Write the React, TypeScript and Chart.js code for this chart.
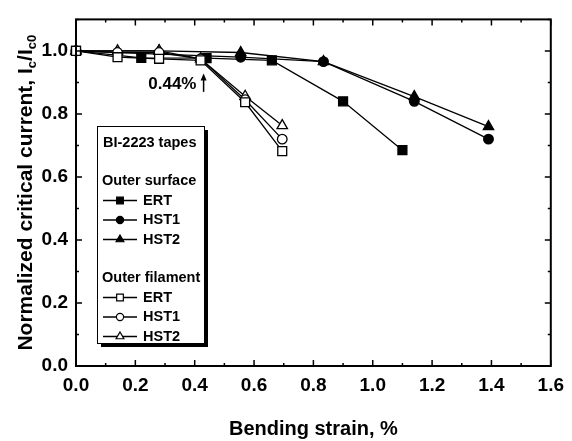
import React, { useEffect, useRef } from "react";
import { Chart, registerables } from "chart.js";
Chart.register(...registerables);

// ---- data ----
const xTickValues = [0, 0.2, 0.4, 0.6, 0.8, 1.0, 1.2, 1.4, 1.6];
const yTickValues = [0, 0.2, 0.4, 0.6, 0.8, 1.0];

const surfaceErtX = [0, 0.22, 0.44, 0.66, 0.9, 1.1];
const surfaceErtY = [1.0, 0.978, 0.977, 0.97, 0.84, 0.685];
const surfaceHstX = [0, 0.28, 0.555, 0.834, 1.14, 1.39];
const surfaceHst1Y = [1.0, 0.99, 0.98, 0.966, 0.84, 0.72];
const surfaceHst2Y = [1.0, 1.0, 0.995, 0.966, 0.855, 0.76];

const filamentErtX = [0, 0.14, 0.28, 0.42, 0.57, 0.695];
const filamentErtY = [1.0, 0.98, 0.975, 0.97, 0.837, 0.682];
const filamentHstX = [0, 0.14, 0.28, 0.42, 0.57, 0.695];
const filamentHst1Y = [1.0, 0.995, 0.995, 0.975, 0.845, 0.72];
const filamentHst2Y = [1.0, 1.0, 1.0, 0.975, 0.856, 0.763];

const legendTitle = "BI-2223 tapes";
const legendGroupSurface = "Outer surface";
const legendGroupFilament = "Outer filament";
const seriesNames = ["ERT", "HST1", "HST2"];
const seriesStyles = ["rect", "circle", "triangle"];

const annotationText = "0.44%";
const annotationX = 0.43;
const xTitle = "Bending strain, %";

const FONT = "'Liberation Sans', Arial, sans-serif";

function pts(xs: number[], ys: number[]) {
  return xs.map((x, i) => ({ x, y: ys[i] }));
}

function radiusFor(style: string) {
  if (style === "rect") return 6.3;
  if (style === "triangle") return 6;
  return 4.8;
}

function ds(label: string, data: any[], style: string, filled: boolean) {
  return {
    label,
    data,
    showLine: true,
    borderColor: "#000",
    borderWidth: 1.3,
    pointStyle: style,
    pointRadius: radiusFor(style),
    pointBackgroundColor: filled ? "#000" : "#fff",
    pointBorderColor: "#000",
    pointBorderWidth: 1.3,
    tension: 0,
    fill: false,
    clip: false as any,
  };
}

function drawMarker(ctx: CanvasRenderingContext2D, style: string, x: number, y: number, r: number, filled: boolean) {
  ctx.beginPath();
  if (style === "rect") {
    const s = r * Math.SQRT1_2;
    ctx.rect(x - s, y - s, 2 * s, 2 * s);
  } else if (style === "circle") {
    ctx.arc(x, y, r, 0, Math.PI * 2);
  } else {
    ctx.moveTo(x, y - r);
    ctx.lineTo(x + r * 0.866, y + r / 2);
    ctx.lineTo(x - r * 0.866, y + r / 2);
    ctx.closePath();
  }
  ctx.fillStyle = filled ? "#000" : "#fff";
  ctx.fill();
  ctx.lineWidth = 1.2;
  ctx.strokeStyle = "#000";
  ctx.stroke();
}

const decorPlugin = {
  id: "decor",
  afterDraw(chart: any) {
    const ctx: CanvasRenderingContext2D = chart.ctx;
    const { left, right, top, bottom } = chart.chartArea;
    const xs = chart.scales.x;
    const ys = chart.scales.y;
    ctx.save();
    // frame
    ctx.strokeStyle = "#000";
    ctx.lineWidth = 2;
    ctx.strokeRect(left, top, right - left, bottom - top);
    // ticks inward on all sides
    ctx.lineWidth = 1.5;
    ctx.beginPath();
    for (let i = 0; i <= 16; i++) {
      const v = i * 0.1;
      const px = xs.getPixelForValue(v);
      const len = i % 2 === 0 ? 6 : 3;
      ctx.moveTo(px, bottom);
      ctx.lineTo(px, bottom - len);
      ctx.moveTo(px, top);
      ctx.lineTo(px, top + len);
    }
    for (let i = 0; i <= 11; i++) {
      const v = i * 0.1;
      const py = ys.getPixelForValue(v);
      const len = i % 2 === 0 ? 6 : 3;
      ctx.moveTo(left, py);
      ctx.lineTo(left + len, py);
      ctx.moveTo(right, py);
      ctx.lineTo(right - len, py);
    }
    ctx.stroke();

    // annotation
    const ax = xs.getPixelForValue(annotationX);
    const y1 = ys.getPixelForValue(0.87);
    const y2 = ys.getPixelForValue(0.928);
    ctx.lineWidth = 1.5;
    ctx.beginPath();
    ctx.moveTo(ax, y1);
    ctx.lineTo(ax, y2 + 5);
    ctx.stroke();
    ctx.beginPath();
    ctx.moveTo(ax, y2);
    ctx.lineTo(ax + 3, y2 + 7);
    ctx.lineTo(ax - 3, y2 + 7);
    ctx.closePath();
    ctx.fillStyle = "#000";
    ctx.fill();
    ctx.font = `bold 17px ${FONT}`;
    ctx.textAlign = "right";
    ctx.textBaseline = "middle";
    ctx.fillText(annotationText, xs.getPixelForValue(0.406), ys.getPixelForValue(0.893));

    // legend box
    const bx = 97, by = 126, bw = 107, bh = 217;
    ctx.fillStyle = "#000";
    ctx.fillRect(bx + 4, by + 4, bw, bh);
    ctx.fillStyle = "#fff";
    ctx.fillRect(bx, by, bw, bh);
    ctx.lineWidth = 1;
    ctx.strokeRect(bx + 0.5, by + 0.5, bw, bh);
    ctx.fillStyle = "#000";
    ctx.textAlign = "left";
    ctx.textBaseline = "middle";
    ctx.font = `bold 14.5px ${FONT}`;
    ctx.fillText(legendTitle, 103, 143);
    ctx.font = `bold 14.5px ${FONT}`;
    const rowH = 19.5;
    const groups = [
      { title: legendGroupSurface, y: 181, filled: true },
      { title: legendGroupFilament, y: 278, filled: false },
    ];
    groups.forEach((g) => {
      ctx.fillStyle = "#000";
      ctx.fillText(g.title, 102, g.y);
      seriesNames.forEach((name, i) => {
        const yy = g.y + rowH * (i + 1);
        ctx.strokeStyle = "#000";
        ctx.lineWidth = 1.3;
        ctx.beginPath();
        ctx.moveTo(103, yy);
        ctx.lineTo(137, yy);
        ctx.stroke();
        drawMarker(ctx, seriesStyles[i], 120, yy, radiusFor(seriesStyles[i]) * 0.75, g.filled);
        ctx.fillStyle = "#000";
        ctx.fillText(name, 143, yy);
      });
    });

    // y title with subscripts
    const cy = (top + bottom) / 2;
    ctx.translate(25, cy);
    ctx.rotate(-Math.PI / 2);
    const big = `bold 21px ${FONT}`;
    const small = `bold 13px ${FONT}`;
    const parts: [string, boolean][] = [
      ["Normalized critical current, I", false],
      ["c", true],
      ["/I", false],
      ["c0", true],
    ];
    let total = 0;
    parts.forEach(([t, s]) => {
      ctx.font = s ? small : big;
      total += ctx.measureText(t).width;
    });
    let cx = -total / 2;
    ctx.textAlign = "left";
    ctx.textBaseline = "alphabetic";
    ctx.fillStyle = "#000";
    parts.forEach(([t, s]) => {
      ctx.font = s ? small : big;
      ctx.fillText(t, cx, s ? 11 : 7);
      cx += ctx.measureText(t).width;
    });
    ctx.restore();
  },
};

export default function App() {
  const ref = useRef<HTMLCanvasElement | null>(null);
  useEffect(() => {
    if (!ref.current) return;
    const chart = new Chart(ref.current, {
      type: "scatter",
      data: {
        datasets: [
          ds("Outer filament ERT", pts(filamentErtX, filamentErtY), "rect", false),
          ds("Outer filament HST1", pts(filamentHstX, filamentHst1Y), "circle", false),
          ds("Outer filament HST2", pts(filamentHstX, filamentHst2Y), "triangle", false),
          ds("Outer surface ERT", pts(surfaceErtX, surfaceErtY), "rect", true),
          ds("Outer surface HST1", pts(surfaceHstX, surfaceHst1Y), "circle", true),
          ds("Outer surface HST2", pts(surfaceHstX, surfaceHst2Y), "triangle", true),
        ] as any,
      },
      options: {
        animation: false,
        responsive: false,
        devicePixelRatio: 1,
        layout: { padding: { top: 13, right: 15, left: 0, bottom: 0 } },
        plugins: { legend: { display: false }, tooltip: { enabled: false } },
        scales: {
          x: {
            type: "linear",
            min: 0,
            max: 1.6,
            grid: { display: false, drawTicks: false },
            border: { display: false },
            afterBuildTicks: (s: any) => {
              s.ticks = xTickValues.map((v) => ({ value: v }));
            },
            afterFit: (s: any) => {
              s.height = 75;
            },
            ticks: {
              padding: 8,
              color: "#000",
              font: { family: FONT, size: 19, weight: "bold" },
              maxRotation: 0,
              callback: (v: any) => Number(v).toFixed(1),
            },
            title: {
              display: true,
              text: xTitle,
              color: "#000",
              font: { family: FONT, size: 20, weight: "bold" },
              padding: { top: 22, bottom: 0 },
            },
          },
          y: {
            type: "linear",
            min: 0,
            max: 1.1,
            grid: { display: false, drawTicks: false },
            border: { display: false },
            afterBuildTicks: (s: any) => {
              s.ticks = yTickValues.map((v) => ({ value: v }));
            },
            afterFit: (s: any) => {
              s.width = 76;
            },
            ticks: {
              padding: 8,
              color: "#000",
              font: { family: FONT, size: 19, weight: "bold" },
              callback: (v: any) => Number(v).toFixed(1),
            },
          },
        },
      },
      plugins: [decorPlugin],
    } as any);
    return () => chart.destroy();
  }, []);
  return (
    <div style={{ position: "absolute", left: 0, top: 0, width: 572, height: 441, background: "#fff" }}>
      <canvas ref={ref} width={572} height={441} style={{ width: 572, height: 441, display: "block" }} />
    </div>
  );
}
